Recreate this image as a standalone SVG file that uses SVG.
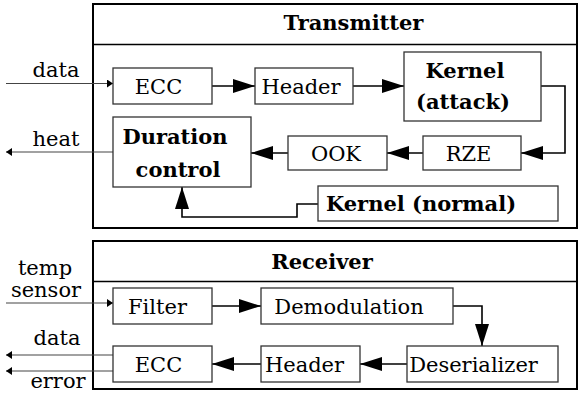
<svg xmlns="http://www.w3.org/2000/svg" width="580" height="395" viewBox="0 0 580 395">
<style>
text{font-family:'DejaVu Serif',serif;font-size:21px;fill:#000;text-anchor:middle}
.b{font-weight:bold}
.box{fill:#fff;stroke:#333;stroke-width:1.3}
.outer{fill:#fff;stroke:#000;stroke-width:2}
.div{stroke:#000;stroke-width:1.3}
.c{fill:none;stroke:#000;stroke-width:1.6}
.ext{fill:none;stroke:#444;stroke-width:1.2}
</style>
<defs>
<marker id="ah" markerUnits="userSpaceOnUse" markerWidth="22" markerHeight="14" refX="22" refY="7" orient="auto"><path d="M0,0 L22,7 L0,14 Z" fill="#000"/></marker>
<marker id="sh" markerUnits="userSpaceOnUse" markerWidth="6" markerHeight="8" refX="6" refY="4" orient="auto"><path d="M0,0 L6,4 L0,8 Z" fill="#000"/></marker>
</defs>

<g id="transmitter">
<rect class="outer" x="93" y="4" width="484" height="224"/>
<line class="div" x1="93" y1="44.5" x2="577" y2="44.5"/>
<text class="b" x="353.5" y="30">Transmitter</text>
</g>
<g id="receiver">
<rect class="outer" x="93" y="241" width="484" height="148"/>
<line class="div" x1="93" y1="281.5" x2="577" y2="281.5"/>
<text class="b" x="322" y="269">Receiver</text>
</g>

<g id="connectors">
<path class="ext" d="M6,83.5 H113" marker-end="url(#sh)"/>
<path class="ext" d="M113,152 H6" marker-end="url(#sh)"/>
<path class="c" d="M212,86 H255" marker-end="url(#ah)"/>
<path class="c" d="M353,86 H404" marker-end="url(#ah)"/>
<path class="c" d="M541,86 H565 V153 H521" marker-end="url(#ah)"/>
<path class="c" d="M423,153 H387" marker-end="url(#ah)"/>
<path class="c" d="M288,153 H251" marker-end="url(#ah)"/>
<path class="c" d="M318,204 H297 V217 H182 V187" marker-end="url(#ah)"/>

<path class="ext" d="M6,303 H113" marker-end="url(#sh)"/>
<path class="ext" d="M113,355 H6" marker-end="url(#sh)"/>
<path class="ext" d="M113,371 H6" marker-end="url(#sh)"/>
<path class="c" d="M212,306 H261" marker-end="url(#ah)"/>
<path class="c" d="M453,306 H482 V346" marker-end="url(#ah)"/>
<path class="c" d="M407,364 H360" marker-end="url(#ah)"/>
<path class="c" d="M261,364 H212" marker-end="url(#ah)"/>
</g>

<g id="labels">
<text x="56" y="77">data</text>
<text x="56" y="146">heat</text>
<text x="45" y="275">temp</text>
<text x="46" y="297">sensor</text>
<text x="57" y="345">data</text>
<text x="58" y="388">error</text>
</g>

<g id="tx-ecc"><rect class="box" x="113" y="68" width="99" height="36"/><text x="158.5" y="94">ECC</text></g>
<g id="tx-header"><rect class="box" x="255" y="68" width="98" height="36"/><text x="301" y="94">Header</text></g>
<g id="tx-kernel-attack"><rect class="box" x="404" y="52" width="137" height="69"/><text class="b" x="465" y="78">Kernel</text><text class="b" x="463" y="109">(attack)</text></g>
<g id="tx-rze"><rect class="box" x="423" y="136" width="98" height="34"/><text x="468.5" y="161">RZE</text></g>
<g id="tx-ook"><rect class="box" x="288" y="136" width="99" height="34"/><text x="336" y="161">OOK</text></g>
<g id="tx-duration"><rect class="box" x="113" y="117" width="138" height="70"/><text class="b" x="175" y="144">Duration</text><text class="b" x="178" y="177">control</text></g>
<g id="tx-kernel-normal"><rect class="box" x="318" y="186" width="240" height="35"/><text class="b" x="421" y="211">Kernel (normal)</text></g>

<g id="rx-filter"><rect class="box" x="113" y="288" width="99" height="36"/><text x="157.5" y="314">Filter</text></g>
<g id="rx-demod"><rect class="box" x="261" y="288" width="192" height="36"/><text x="349" y="314">Demodulation</text></g>
<g id="rx-deser"><rect class="box" x="407" y="346" width="151" height="36"/><text x="473.5" y="372">Deserializer</text></g>
<g id="rx-header"><rect class="box" x="261" y="346" width="99" height="36"/><text x="304.5" y="372">Header</text></g>
<g id="rx-ecc"><rect class="box" x="113" y="346" width="99" height="36"/><text x="158.5" y="372">ECC</text></g>
</svg>
